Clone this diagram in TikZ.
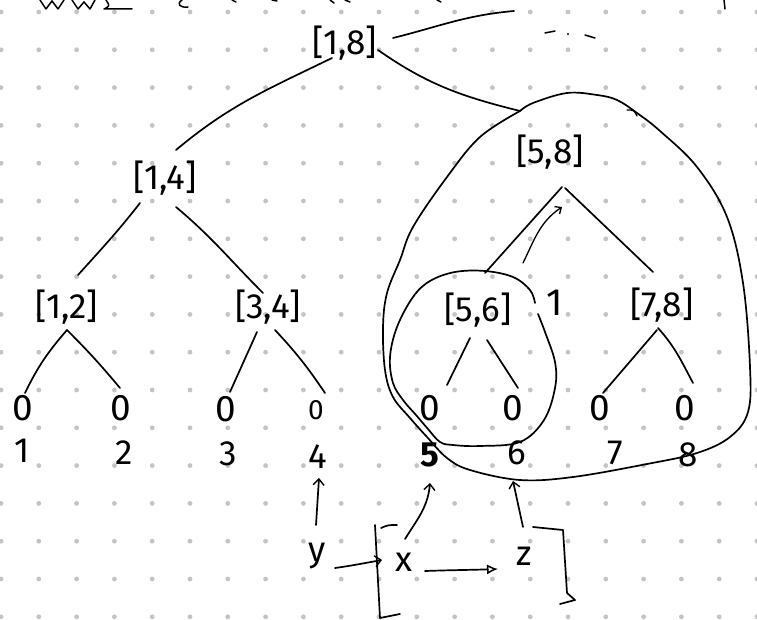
\documentclass[tikz,border=0pt]{standalone}
\usepackage{fontspec}
\setmainfont{Fira Sans}
\usetikzlibrary{arrows.meta}
\definecolor{dotgray}{RGB}{196,196,196}
\begin{document}
\begin{tikzpicture}[x=1pt,y=-1pt,line cap=round,line join=round,
  pen/.style={line width=1.7pt,black},
  ivlbox/.style={inner sep=0pt,font=\fontsize{35}{35}\selectfont},
  leafbox/.style={inner sep=0pt,font=\fontsize{37}{37}\selectfont},
  idxbox/.style={inner sep=0pt,font=\fontsize{35}{35}\selectfont},
  arr/.style={pen,-{Straight Barb[length=6pt,width=11pt,line width=1.4pt]}}]
\useasboundingbox (0,0) rectangle (757,620);
\fill[white] (0,0) rectangle (757,620);
% dotted paper
\foreach \i in {0,...,20}
  \foreach \j in {0,...,16}
    \fill[dotgray] (1+37.8*\i,12+37.8*\j) circle (2.4);

% bottoms of the line of writing above
\begin{scope}[pen,line width=1.5pt]
  \draw (40,0) -- (46,9) -- (52,1) -- (58,9) -- (64,0);
  \draw (72,0) -- (78,9) -- (84,2) -- (90,9) -- (95,0);
  \draw (106,0) .. controls (110,6) .. (104,9) -- (132,9);
  \draw (182,0) .. controls (176,4) and (180,8) .. (188,7);
  \draw (232,0) -- (236,2);
  \draw (272,0) -- (277,1);
  \draw (330,0) -- (334,3);
  \draw (345,0) -- (350,2);
  \draw (437,0) -- (441,2);
  \draw (724,0) -- (725,9);
\end{scope}

% interval nodes
\node[ivlbox] (n18) at (345,43) {[1,8]};
\node[ivlbox] (n14) at (165,178) {[1,4]};
\node[ivlbox] (n12) at (67,307) {[1,2]};
\node[ivlbox] (n34) at (268,307) {[3,4]};
\node[ivlbox] (n58) at (550,152) {[5,8]};
\node[ivlbox] (n56) at (478,310) {[5,6]};
\node[ivlbox] (n78) at (662,305) {[7,8]};

% leaves
\node[leafbox] (l1) at (23,408) {0};
\node[leafbox] (l2) at (121,408) {0};
\node[leafbox] (l3) at (226,409) {0};
\node[leafbox,font=\fontsize{28}{28}\selectfont] (l4) at (316,410) {0};
\node[leafbox] (l5) at (430,408) {0};
\node[leafbox] (l6) at (513,408) {0};
\node[leafbox] (l7) at (600,408) {0};
\node[leafbox] (l8) at (685,408) {0};

% positions
\node[idxbox] (i1) at (22,451) {1};
\node[idxbox] (i2) at (124,453) {2};
\node[idxbox] (i3) at (228,454) {3};
\node[idxbox] (i4) at (318,457) {4};
\node[idxbox,font=\fontsize{35}{35}\selectfont\bfseries] (i5) at (430,455) {5};
\node[idxbox] (i6) at (517,453) {6};
\node[idxbox] (i7) at (615,453) {7};
\node[idxbox] (i8) at (688,455) {8};

% note beside [5,6]
\node[idxbox,font=\fontsize{38}{38}\selectfont] (one) at (555,303) {1};

% variables below
\node[idxbox] (vy) at (317,556) {y};
\node[idxbox] (vx) at (404,562) {x};
\node[idxbox] (vz) at (524,556) {z};

% tree edges
\draw[pen] ([shift={(-13,15)}]n18.center) to[out=206,in=40] ([shift={(11,-28)}]n14.center);
\draw[pen] ([shift={(33,7)}]n18.center) to[out=-35,in=166] (520,111);
\draw[pen] ([shift={(48,-5)}]n18.center) to[out=14,in=185] (514,11);
\draw[pen] ([shift={(-25,25)}]n14.center) to[out=232,in=48] ([shift={(11,-32)}]n12.center);
\draw[pen] ([shift={(11,29)}]n14.center) to[out=-40,in=135] ([shift={(-5,-14)}]n34.center);
\draw[pen] ([shift={(0,23)}]n12.center) to[out=229,in=64] ([shift={(2,-15)}]l1.center);
\draw[pen] ([shift={(0,23)}]n12.center) to[out=-45,in=130] ([shift={(-1,-20)}]l2.center);
\draw[pen] ([shift={(-11,25)}]n34.center) -- ([shift={(4,-17)}]l3.center);
\draw[pen] ([shift={(7,23)}]n34.center) to[out=-47,in=124] ([shift={(9,-17)}]l4.center);
\draw[pen] ([shift={(12,35)}]n58.center) -- ([shift={(7,-37)}]n56.center);
\draw[pen] ([shift={(15,36)}]n58.center) -- ([shift={(-9,-33)}]n78.center);
\draw[pen] ([shift={(-8,28)}]n56.center) -- ([shift={(17,-23)}]l5.center);
\draw[pen] ([shift={(9,30)}]n56.center) -- ([shift={(5,-20)}]l6.center);
\draw[pen] ([shift={(-5,25)}]n78.center) -- ([shift={(3,-15)}]l7.center);
\draw[pen] ([shift={(-4,23)}]n78.center) to[out=-48,in=118] ([shift={(8,-25)}]l8.center);

% ellipsis at the top right
\draw[pen,line width=1.5pt] (545,33) -- (555,31);
\fill (568,34) circle (1.1);
\draw[pen,line width=1.5pt] (585,35) -- (595,38);

% update path: [5,6] up to [5,8]
\draw[arr,-{Straight Barb[length=5pt,width=9pt,line width=1.3pt]},line width=1.3pt]
  ([shift={(45,-47)}]n56.center) to[out=64,in=214] ([shift={(12,55)}]n58.center);

% region around [5,8]
\draw[pen] plot[smooth,tension=0.6] coordinates {(520,111) (533,103) (567,93) (597,95) (617,100) (637,113) (660,131) (697,167) (727,217) (743,283) (750,367) (748,412) (730,437) (697,453) (647,464) (573,477) (520,480) (470,470) (447,458) (427,437) (410,418) (393,397) (385,370) (383,327) (387,293) (400,260) (413,227) (447,177) (480,137) (520,111)};
\draw[pen,line width=1.3pt] (627,110) .. controls (634,110) .. (637,116);

% region around [5,6]
\draw[pen] plot[smooth,tension=0.6] coordinates {(538,314) (545,332) (555,362) (555,388) (544,420) (520,442) (480,446) (453,445) (440,442) (428,429) (416,415) (403,400) (393,383) (390,357) (397,327) (413,297) (430,281) (455,272) (485,271) (513,277) (530,290) (535,303)};

% arrows from the variables
\draw[arr] ([shift={(-1,-31)}]vy.center) -- ([shift={(1,21)}]i4.center);
\draw[arr] ([shift={(18,12)}]vy.center) to[out=8,in=190] ([shift={(-22,-2)}]vx.center);
\draw[pen,-{Latex[open,length=11pt,width=10pt,line width=1.5pt]}] ([shift={(21,9)}]vx.center) to[out=2,in=182] ([shift={(-26,13)}]vz.center);
\draw[arr] ([shift={(1,-23)}]vx.center) to[out=58,in=265] ([shift={(0,28)}]i5.center);
\draw[arr] ([shift={(-1,-29)}]vz.center) -- ([shift={(-4,28)}]i6.center);

% brackets around x
\draw[pen] (397,525) .. controls (388,525) .. (381,528);
\draw[pen] (375,525) -- (380,618) -- (400,614);
\draw[pen] (533,527) -- (563,530) -- (567,593) -- (575,600) -- (560,604);
\end{tikzpicture}
\end{document}
